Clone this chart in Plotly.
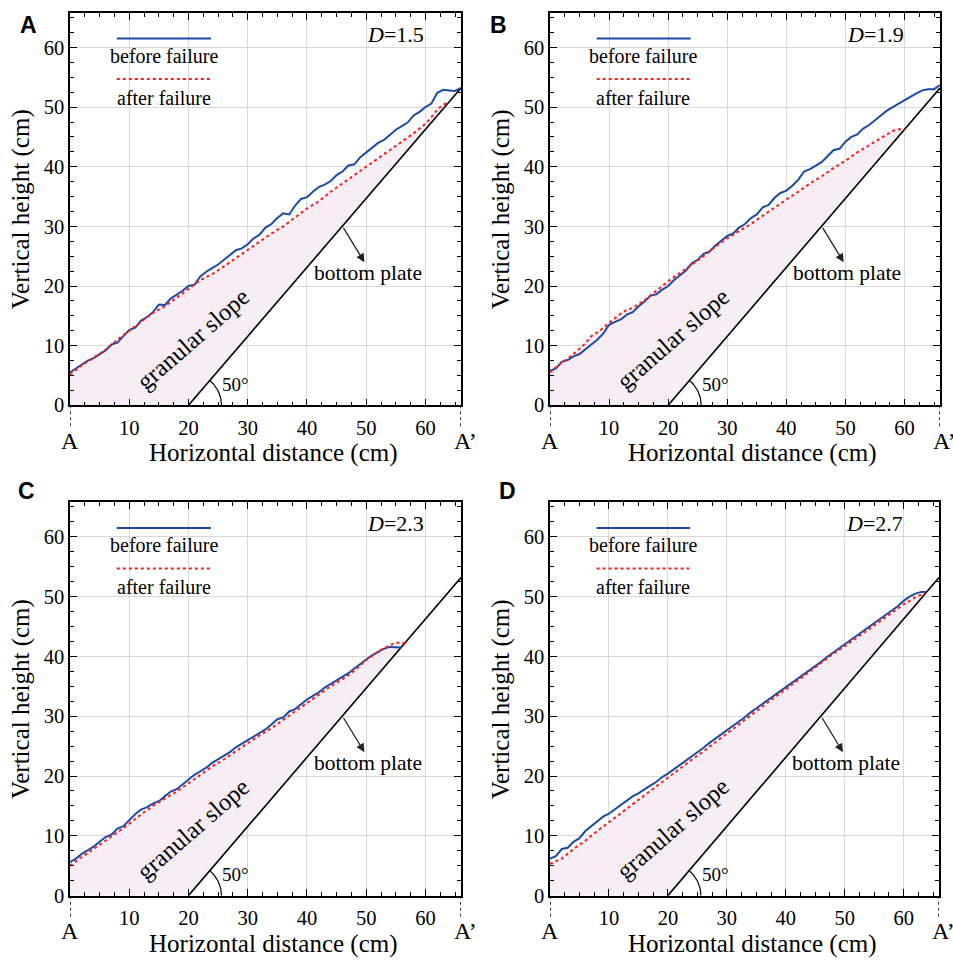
import numpy as np
import plotly.graph_objects as go

# ---------------- data ----------------
panel_letters = ["A", "B", "C", "D"]
d_values = ["1.5", "1.9", "2.3", "2.7"]

# Panel A (D=1.5)
a_before_x = list(range(0, 66)) + [66.0]
a_before_y = [5.5, 6.2, 6.8, 7.5, 7.9, 8.6, 9.2, 10.2, 10.5, 11.6, 12.6, 13.0, 14.2, 14.8, 15.6, 16.9,
              16.8, 17.9, 18.5, 19.2, 20.0, 20.2, 21.6, 22.4, 23.0, 23.6, 24.4, 25.2, 26.0, 26.3, 27.0,
              28.0, 28.6, 29.8, 30.4, 31.4, 32.2, 32.0, 33.5, 34.6, 34.9, 35.8, 36.6, 37.0, 37.6, 38.6,
              39.2, 40.2, 40.4, 41.6, 42.4, 43.1, 44.0, 44.5, 45.4, 46.2, 46.8, 47.4, 48.6, 49.2, 50.0,
              50.6, 52.4, 52.9, 52.8, 52.7, 53.2]
a_after_x = [0, 2, 4, 6, 8, 10, 12, 14, 16, 18, 20, 22, 24, 26, 28, 30, 32, 34, 36, 38, 40, 42, 44, 46,
             48, 50, 52, 54, 56, 58, 60, 61, 62, 63, 64.1]
a_after_y = [5.2, 6.7, 8.0, 9.3, 11.0, 12.5, 14.0, 15.5, 16.6, 18.0, 19.5, 21.0, 22.0, 23.3, 24.7, 26.0,
             27.4, 28.8, 30.0, 31.5, 33.0, 34.2, 35.8, 37.2, 38.6, 40.0, 41.3, 42.8, 44.2, 45.6, 47.2,
             48.3, 49.6, 50.4, 50.9]

# Panel B (D=1.9)
b_before_x = list(range(0, 66)) + [66.0]
b_before_y = [5.8, 6.2, 7.3, 7.6, 8.2, 8.6, 9.4, 10.2, 11.0, 12.0, 13.5, 14.0, 14.4, 15.2, 15.6, 16.6,
              17.4, 18.4, 18.6, 19.4, 20.0, 21.0, 21.8, 22.6, 23.8, 24.4, 25.4, 25.8, 26.8, 27.6, 28.4,
              28.8, 29.8, 30.4, 31.4, 32.0, 33.2, 33.6, 34.8, 35.6, 36.0, 36.8, 37.8, 39.2, 39.6, 40.2,
              40.8, 41.8, 42.8, 43.0, 44.2, 45.0, 45.4, 46.4, 47.0, 47.8, 48.6, 49.4, 50.0, 50.6, 51.2,
              51.7, 52.3, 52.8, 53.0, 53.0, 53.7]
b_after_x = [0, 1, 2, 3, 4, 5, 6, 7, 8, 9, 10, 11, 12, 13, 14, 15, 16, 17, 18, 19, 20, 22, 24, 26, 28,
             30, 32, 34, 36, 38, 40, 42, 44, 46, 48, 50, 52, 54, 56, 58, 59, 60]
b_after_y = [5.5, 6.4, 7.2, 7.8, 8.6, 9.5, 10.4, 11.6, 12.2, 13.0, 13.8, 14.6, 15.4, 16.0, 16.3, 17.0,
             17.6, 18.4, 19.2, 20.0, 20.8, 22.2, 23.6, 25.0, 26.6, 28.0, 29.2, 30.4, 31.8, 33.2, 34.5,
             35.8, 37.2, 38.4, 39.8, 41.0, 42.4, 43.6, 44.8, 46.0, 46.3, 46.2]

# Panel C (D=2.3)
c_before_x = list(range(0, 56)) + [55.9]
c_before_y = [5.6, 6.2, 7.0, 7.6, 8.2, 9.0, 9.8, 10.2, 11.2, 11.6, 12.6, 13.6, 14.4, 14.8, 15.4, 15.8,
              16.6, 17.4, 17.8, 18.6, 19.4, 20.2, 20.8, 21.4, 22.2, 22.8, 23.4, 24.0, 24.8, 25.4, 26.0,
              26.6, 27.2, 27.8, 28.6, 29.5, 29.8, 30.8, 31.2, 32.0, 32.8, 33.4, 34.0, 34.8, 35.4, 36.0,
              36.6, 37.2, 38.0, 38.8, 39.5, 40.2, 40.8, 41.3, 41.6, 41.6, 41.5]
c_after_x = [0, 2, 4, 6, 8, 10, 12, 14, 16, 18, 20, 22, 24, 26, 28, 30, 32, 34, 36, 38, 40, 42, 44, 46,
             48, 50, 52, 54, 55, 56, 56.6]
c_after_y = [5.0, 6.5, 7.8, 9.2, 10.6, 12.0, 13.6, 15.0, 16.2, 17.4, 18.8, 20.2, 21.6, 22.8, 24.2, 25.5,
             26.8, 28.0, 29.4, 30.8, 32.2, 33.6, 35.0, 36.2, 37.6, 39.4, 40.8, 41.9, 42.3, 42.3, 42.2]

# Panel D (D=2.7)
d_before_x = list(range(0, 64)) + [63.9]
d_before_y = [6.2, 6.6, 7.8, 8.0, 9.0, 9.6, 10.8, 11.6, 12.5, 13.2, 13.7, 14.4, 15.1, 15.8, 16.6, 17.1,
              17.8, 18.4, 19.0, 19.8, 20.4, 21.1, 21.9, 22.6, 23.2, 24.0, 24.7, 25.5, 26.2, 26.9, 27.6,
              28.4, 29.1, 29.8, 30.6, 31.3, 32.0, 32.7, 33.4, 34.2, 34.8, 35.6, 36.3, 37.0, 37.7, 38.4,
              39.1, 39.9, 40.6, 41.3, 42.0, 42.7, 43.4, 44.1, 44.9, 45.5, 46.3, 47.0, 47.7, 48.4, 49.3,
              50.0, 50.5, 50.8, 50.8]
d_after_x = [0, 2, 4, 6, 8, 10, 12, 14, 16, 18, 20, 22, 24, 26, 28, 30, 32, 34, 36, 38, 40, 42, 44, 46,
             48, 50, 52, 54, 56, 58, 60, 62, 63.6]
d_after_y = [5.3, 6.2, 7.8, 9.2, 10.8, 12.3, 13.8, 15.3, 16.8, 18.3, 19.8, 21.3, 22.7, 24.1, 25.6, 27.2,
             28.7, 30.2, 31.7, 33.1, 34.5, 36.0, 37.5, 38.9, 40.4, 41.7, 43.1, 44.5, 45.9, 47.3, 48.7,
             49.9, 50.6]

# bottom plate line (cm)
plate_x = [20.0, 66.0]
plate_y = [0.0, 53.2]
plate_angle_deg = 50

x_ticks = [10, 20, 30, 40, 50, 60]
y_ticks = [0, 10, 20, 30, 40, 50, 60]
x_range = [0, 66]
y_range = [0, 65.8]

panels = [
    (a_before_x, a_before_y, a_after_x, a_after_y),
    (b_before_x, b_before_y, b_after_x, b_after_y),
    (c_before_x, c_before_y, c_after_x, c_after_y),
    (d_before_x, d_before_y, d_after_x, d_after_y),
]

# ---------------- layout geometry ----------------
W, H = 953, 961
px_domains = [  # (left, right, top, bottom) in pixels
    (70, 461, 13, 410),
    (550, 940, 13, 410),
    (70, 461, 508, 906),
    (550, 939, 508, 906),
]
letter_pos = [(28, 25), (498, 25), (26, 497), (508, 497)]

SERIF = "Liberation Serif"
SANS = "Liberation Sans"
BLUE = "#1d4aa3"
RED = "#ff1a1a"
FILL = "#f6eef4"

fig = go.Figure()
layout = dict(width=W, height=H, margin=dict(l=0, r=0, t=0, b=0),
              paper_bgcolor="white", plot_bgcolor="white", showlegend=False)
annotations = []
shapes = []


def ann(**kw):
    kw.setdefault("showarrow", False)
    kw.setdefault("xanchor", "center")
    kw.setdefault("yanchor", "middle")
    annotations.append(kw)


for i, (bx, by, ax_, ay_) in enumerate(panels):
    n = i + 1
    xa = "x" if n == 1 else f"x{n}"
    ya = "y" if n == 1 else f"y{n}"
    xkey = "xaxis" if n == 1 else f"xaxis{n}"
    ykey = "yaxis" if n == 1 else f"yaxis{n}"
    l, r, t, b = px_domains[i]
    common = dict(showline=True, linecolor="black", linewidth=1.5, mirror="allticks",
                  ticks="inside", ticklen=7, tickwidth=1.2, tickcolor="black",
                  showgrid=True, gridcolor="#d9d9d9", gridwidth=1, zeroline=False,
                  tickfont=dict(family=SERIF, size=20.5, color="black"),
                  minor=dict(dtick=2.5, tick0=0, ticks="inside", ticklen=4, tickwidth=1,
                             tickcolor="black", showgrid=False),
                  fixedrange=True)
    layout[xkey] = dict(domain=[l / W, r / W], anchor=ya, range=x_range,
                        tickmode="array", tickvals=x_ticks, ticklabelstandoff=3, **common)
    layout[ykey] = dict(domain=[1 - b / H, 1 - t / H], anchor=xa, range=y_range,
                        tickmode="array", tickvals=y_ticks, **common)

    # granular slope fill (under after-failure profile, bounded by the plate)
    fig.add_trace(go.Scatter(x=[0] + list(ax_) + [plate_x[0]], y=[0] + list(ay_) + [plate_y[0]],
                             mode="lines", fill="toself", fillcolor=FILL,
                             line=dict(width=0), xaxis=xa, yaxis=ya, hoverinfo="skip"))
    # bottom plate
    fig.add_trace(go.Scatter(x=plate_x, y=plate_y, mode="lines",
                             line=dict(color="black", width=1.6), xaxis=xa, yaxis=ya))
    # 50 degree arc (pixel-true circle)
    sx = (r - l) / (x_range[1] - x_range[0])
    sy = (b - t) / (y_range[1] - y_range[0])
    ang = np.deg2rad(np.linspace(0, plate_angle_deg, 30))
    rad_px = 33
    fig.add_trace(go.Scatter(x=plate_x[0] + rad_px * np.cos(ang) / sx, y=rad_px * np.sin(ang) / sy,
                             mode="lines", line=dict(color="black", width=1.2),
                             xaxis=xa, yaxis=ya, hoverinfo="skip"))
    # profiles
    fig.add_trace(go.Scatter(x=bx, y=by, mode="lines", line=dict(color=BLUE, width=2),
                             xaxis=xa, yaxis=ya, name="before failure"))
    fig.add_trace(go.Scatter(x=ax_, y=ay_, mode="lines", line=dict(color=RED, width=2, dash="dot"),
                             xaxis=xa, yaxis=ya, name="after failure"))

    # legend-like keys
    shapes.append(dict(type="line", xref=xa, yref=ya, x0=7.9, x1=23.8, y0=61.5, y1=61.5,
                       line=dict(color=BLUE, width=2)))
    shapes.append(dict(type="line", xref=xa, yref=ya, x0=7.9, x1=23.6, y0=54.7, y1=54.7,
                       line=dict(color=RED, width=2, dash="dot")))
    ann(x=15.8, y=58.6, xref=xa, yref=ya, text="before failure",
        font=dict(family=SERIF, size=20, color="black"))
    ann(x=15.8, y=51.6, xref=xa, yref=ya, text="after failure",
        font=dict(family=SERIF, size=20, color="black"))
    ann(x=55.0, y=62.2, xref=xa, yref=ya, text=f"<i>D</i>={d_values[i]}",
        font=dict(family=SERIF, size=22, color="black"))
    ann(x=50.3, y=22.2, xref=xa, yref=ya, text="bottom plate",
        font=dict(family=SERIF, size=21.5, color="black"))
    ann(x=20.8, y=11.2, xref=xa, yref=ya, text="granular slope", textangle=-41,
        font=dict(family=SERIF, size=24.5, color="black"))
    ann(x=28.0, y=3.5, xref=xa, yref=ya, text="50°",
        font=dict(family=SERIF, size=19, color="black"))
    annotations.append(dict(x=49.7, y=24.0, ax=46.0, ay=30.0, xref=xa, yref=ya, axref=xa, ayref=ya,
                            text="", showarrow=True, arrowhead=2, arrowsize=1.3, arrowwidth=1.3,
                            arrowcolor="#222222"))
    # A / A' markers below the axis
    for xv in (x_range[0], x_range[1]):
        shapes.append(dict(type="line", xref=xa, yref=f"{ya} domain", x0=xv, x1=xv, y0=0, y1=-0.055,
                           line=dict(color="black", width=1.5, dash="dot")))
    ann(x=x_range[0], y=-0.09, xref=xa, yref=f"{ya} domain", text="A",
        font=dict(family=SERIF, size=24, color="black"))
    ann(x=x_range[1], y=-0.09, xref=xa, yref=f"{ya} domain", text="A’",
        xanchor="left", xshift=-9, font=dict(family=SERIF, size=24, color="black"))
    # axis titles
    ann(x=0.52, y=-0.122, xref=f"{xa} domain", yref=f"{ya} domain",
        text="Horizontal distance (cm)", font=dict(family=SERIF, size=25, color="black"))
    ann(x=-0.125, y=0.5, xref=f"{xa} domain", yref=f"{ya} domain",
        text="Vertical height (cm)", textangle=-90,
        font=dict(family=SERIF, size=25, color="black"))
    # panel letter
    lx, ly = letter_pos[i]
    ann(x=lx / W, y=1 - ly / H, xref="paper", yref="paper",
        text=f"<b>{panel_letters[i]}</b>", font=dict(family=SANS, size=23, color="black"))

layout["annotations"] = annotations
layout["shapes"] = shapes
fig.update_layout(**layout)
fig.write_html("out.html")
